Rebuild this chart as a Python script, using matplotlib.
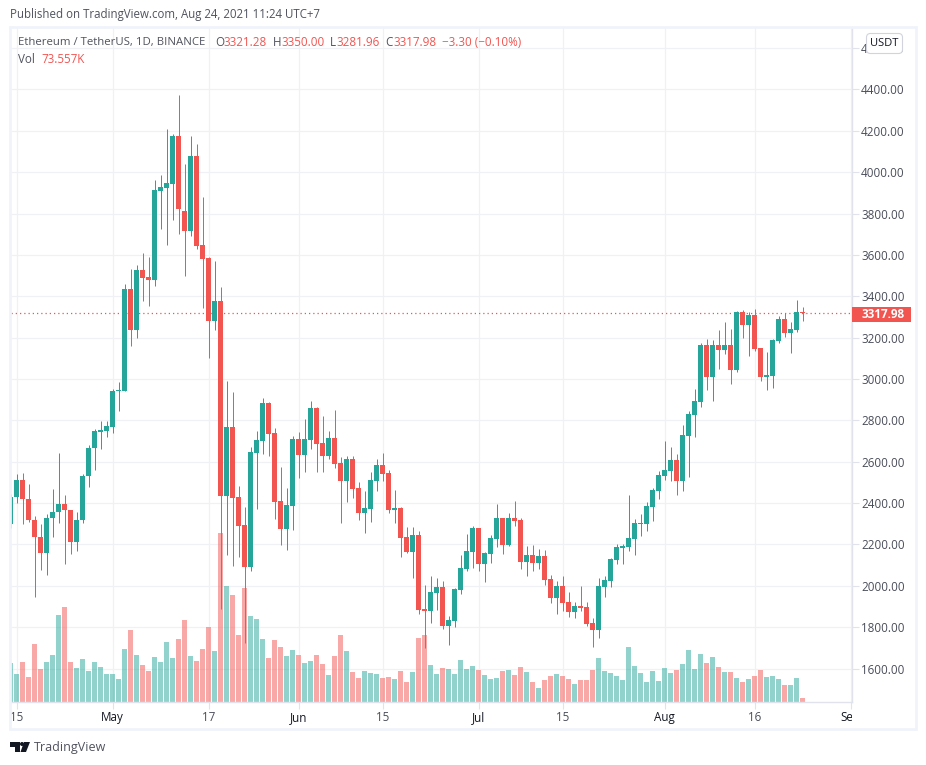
import matplotlib
matplotlib.use("Agg")
import matplotlib.pyplot as plt
from matplotlib.patches import Rectangle, FancyBboxPatch, Polygon, Circle
from matplotlib.transforms import Affine2D, Bbox, blended_transform_factory

plt.rcParams['font.family'] = ['Open Sans', 'DejaVu Sans']

# Daily candles, 14 Apr 2021 .. 24 Aug 2021
opens = [2297,2428,2513,2421,2320,2238,2157,2326,2355,2397,2368,2210,2316,2529,2665,2745,2750,2769,2940,2944,
         3434,3236,3526,3492,3478,3908,3923,3942,4174,3812,3715,4078,3647,3584,3280,3376,2436,2769,2431,2296,
         2092,2644,2702,2886,2740,2412,2276,2386,2710,2632,2705,2860,2690,2628,2715,2594,2507,2613,2473,2352,
         2371,2507,2584,2545,2366,2376,2236,2163,2245,1888,1878,1965,1994,1805,1830,1979,2081,2163,2279,2105,
         2154,2226,2328,2197,2328,2318,2115,2149,2110,2144,2033,1941,1999,1921,1873,1902,1898,1820,1786,1994,
         2023,2125,2183,2188,2226,2299,2299,2381,2459,2531,2555,2608,2507,2725,2826,2889,3165,3010,3165,3140,
         3165,3044,3324,3261,3310,3150,3010,3015,3184,3290,3223,3237,3321.28]
highs = [2444,2542,2547,2494,2339,2300,2349,2470,2644,2441,2368,2358,2542,2682,2760,2798,2798,2953,2987,3459,
         3531,3550,3608,3589,3962,3986,4208,4184,4373,4039,4174,4136,3879,3589,3570,3444,2992,2939,2484,2383,
         2673,2750,2910,2890,2765,2576,2474,2724,2744,2806,2893,2864,2821,2748,2850,2623,2628,2628,2502,2458,
         2550,2613,2642,2560,2463,2381,2284,2284,2265,2004,2047,2038,2023,1854,1989,2149,2250,2289,2279,2163,
         2245,2395,2328,2352,2410,2328,2192,2197,2178,2173,2052,2023,2047,1970,1922,1999,1922,1844,2038,2047,
         2135,2202,2202,2439,2323,2347,2405,2473,2555,2700,2671,2638,2778,2845,2952,3174,3194,3189,3237,3276,
         3242,3329,3334,3324,3339,3150,3131,3194,3305,3319,3276,3382,3350.00]
lows = [2278,2399,2297,2307,1944,2075,2051,2234,2302,2104,2152,2167,2302,2476,2558,2663,2718,2740,2847,2940,
        3159,3197,3376,3352,3449,3725,3647,3768,3700,3497,3691,3628,3342,3101,3236,1886,2150,2097,2141,1725,
        2073,2373,2639,2629,2325,2199,2175,2270,2521,2550,2661,2550,2550,2613,2569,2304,2405,2424,2318,2255,
        2308,2458,2507,2352,2304,2139,2158,2038,1863,1699,1820,1883,1791,1713,1801,1960,2071,2086,2071,2018,
        2110,2187,2154,2192,2289,2081,2047,2071,2081,2004,1917,1863,1878,1849,1844,1878,1806,1704,1748,1946,
        1994,2105,2105,2168,2149,2241,2265,2313,2420,2512,2507,2439,2459,2526,2720,2865,2947,2894,3049,3121,
        2976,3034,3198,3111,3136,2991,2947,2957,3174,3203,3126,3228,3281.96]
closes = [2431,2513,2418,2316,2234,2157,2329,2358,2397,2365,2210,2320,2533,2668,2750,2755,2774,2944,2948,3434,
          3236,3526,3488,3478,3913,3928,3947,4174,3821,3715,4078,3642,3579,3280,3376,2436,2769,2426,2291,2092,
          2649,2707,2886,2736,2407,2276,2391,2710,2632,2710,2860,2686,2628,2715,2589,2507,2613,2468,2352,2376,
          2511,2584,2540,2366,2376,2231,2163,2245,1883,1878,1970,1994,1805,1834,1984,2086,2168,2279,2105,2158,
          2231,2328,2197,2328,2313,2115,2149,2110,2144,2028,1941,1999,1917,1873,1902,1893,1815,1786,1999,2028,
          2130,2188,2193,2231,2304,2304,2386,2463,2536,2560,2608,2507,2729,2831,2894,3165,3010,3165,3140,3165,
          3044,3324,3261,3310,3145,3010,3020,3189,3290,3223,3242,3324,3317.98]
volumes_k = [717,515,736,460,1067,607,736,864,1600,1747,736,625,791,570,736,644,515,515,423,975,
             1324,864,680,570,828,736,1103,809,1159,1508,846,754,975,1379,938,3108,2133,1968,1232,2096,
             1582,1526,1159,809,1140,1011,846,956,864,717,754,864,699,497,846,1232,938,552,441,570,
             533,515,441,460,423,570,368,552,1177,1232,680,515,625,607,515,772,607,662,588,497,
             423,441,570,588,497,644,552,368,257,405,478,515,478,423,331,405,405,588,809,570,
             533,478,405,1011,662,533,368,570,386,625,533,588,699,956,607,883,717,828,644,552,
             552,441,368,423,478,588,460,478,423,313,313,441,73.557]

price_ticks = [1600,1800,2000,2200,2400,2600,2800,3000,3200,3400,3600,3800,4000,4200,4400,4600]
date_tick_pos = [1,17,33,48,62,78,92,109,124,140]
date_tick_labels = ['15','May','17','Jun','15','Jul','15','Aug','16','Sep']
last_price = 3317.98

UP, DOWN = '#26a69a', '#f25450'
GRID, BORDER, AXIS = '#f0f1f5', '#f0f3fa', '#e0e3eb'
TXT = '#4a4e5a'

W, H = 926, 765
fig = plt.figure(figsize=(W/100, H/100), dpi=100, facecolor='white')
L, R, T, B = 11, 852, 27, 702
ax = fig.add_axes([L/W, 1-B/H, (R-L)/W, (B-T)/H], facecolor='white', zorder=1)
ax.set_xlim((L-10.5)/6, (R-10.5)/6)
ax.set_ylim(1600+(668.5-B)/.20679, 1600+(668.5-T)/.20679)

x = list(range(len(opens)))
cols = [UP if c >= o else DOWN for o, c in zip(opens, closes)]

# volume overlay, scaled so one pixel is 18.4K
vol_tf = blended_transform_factory(ax.transData, Affine2D().scale(1, 1/((B-T)*18.4)) + ax.transAxes)
ax.bar(x, volumes_k, width=5/6, color=cols, alpha=.5, linewidth=0, transform=vol_tf, zorder=2)

# candles
wicks = ax.vlines(x, lows, highs, colors=cols, linewidth=.72, zorder=3)
wicks.set_snap(True)
bodies = [max(abs(c-o), 5) for o, c in zip(opens, closes)]
ax.bar(x, bodies, bottom=[min(o, c) for o, c in zip(opens, closes)], width=5/6, color=cols, linewidth=0, zorder=4)
ax.axhline(last_price, color=DOWN, lw=.9, ls=(0, (1, 2.4)), zorder=3.5)

ax.set_axisbelow(True)
ax.grid(True, color=GRID, lw=.9)
ax.yaxis.tick_right()
ax.set_yticks(price_ticks)
ax.set_yticklabels([f'{v:.2f}' for v in price_ticks], fontsize=8.4, color=TXT)
ax.set_xticks(date_tick_pos)
ax.set_xticklabels(date_tick_labels, fontsize=8.4, color=TXT)
for lab, s in zip(ax.get_xticklabels(), date_tick_labels):
    if not s.isdigit():
        lab.set_color('#131722')
    lab.set_clip_box(Bbox([[0, 0], [R, H]]))
    lab.set_clip_on(True)
ax.tick_params(axis='y', length=5, color=AXIS, pad=1.5, width=.8)
ax.tick_params(axis='x', length=5, color=AXIS, pad=1.5, width=.8)
for s in ('top', 'left'):
    ax.spines[s].set_visible(False)
for s in ('right', 'bottom'):
    ax.spines[s].set_color(AXIS)
    ax.spines[s].set_linewidth(1)

# overlay in pixel coordinates for the chrome
ov = fig.add_axes([0, 0, 1, 1], zorder=5)
ov.set_xlim(0, W); ov.set_ylim(H, 0); ov.axis('off')
ov.add_patch(Rectangle((10, 27), 906, 702, fill=False, ec=BORDER, lw=2))

ov.text(10, 14.5, 'Published on TradingView.com, Aug 24, 2021 11:24 UTC+7', fontsize=8.3, color='#50535e', va='center')

def leg(px, y, s, c='#50535e', size=8.4):
    ov.text(px, y, s, fontsize=size, color=c, va='center')
leg(18, 42, 'Ethereum / TetherUS, 1D, BINANCE', size=8.2)
for px, s, c in [(215, 'O', '#50535e'), (223.3, '3321.28', DOWN), (272.7, 'H', '#50535e'), (281, '3350.00', DOWN),
                 (330, 'L', '#50535e'), (336.7, '3281.96', DOWN), (385, 'C', '#50535e'), (393.3, '3317.98', DOWN),
                 (441.7, '\u22123.30 (\u22120.10%)', DOWN)]:
    leg(px, 42, s, c)
leg(18, 59, 'Vol')
leg(41.7, 59, '73.557K', DOWN)

ov.add_patch(FancyBboxPatch((868, 35), 33, 17, boxstyle='round,pad=1.5,rounding_size=4', fc='white', ec='#d1d4dc', lw=.8))
ov.text(884.5, 43, 'USDT', fontsize=8.0, color='#131722', ha='center', va='center')

ov.add_patch(Rectangle((852, 306.5), 59, 15, fc=DOWN, ec='none'))
ov.text(883, 314, '3317.98', fontsize=8.4, color='white', fontweight='bold', ha='center', va='center')

# logo
for pts in ([(10, 742), (20, 742), (20, 752), (15, 752), (15, 747), (10, 747)],
            [(24, 742), (30, 742), (26, 752), (20.5, 752)]):
    ov.add_patch(Polygon(pts, closed=True, fc='#131722', ec='none'))
ov.add_patch(Circle((22, 744), 2, fc='#131722', ec='none'))
ov.text(34, 747.5, 'TradingView', fontsize=9.0, color='#50535e', va='center')

fig.savefig('out.png', dpi=100)
